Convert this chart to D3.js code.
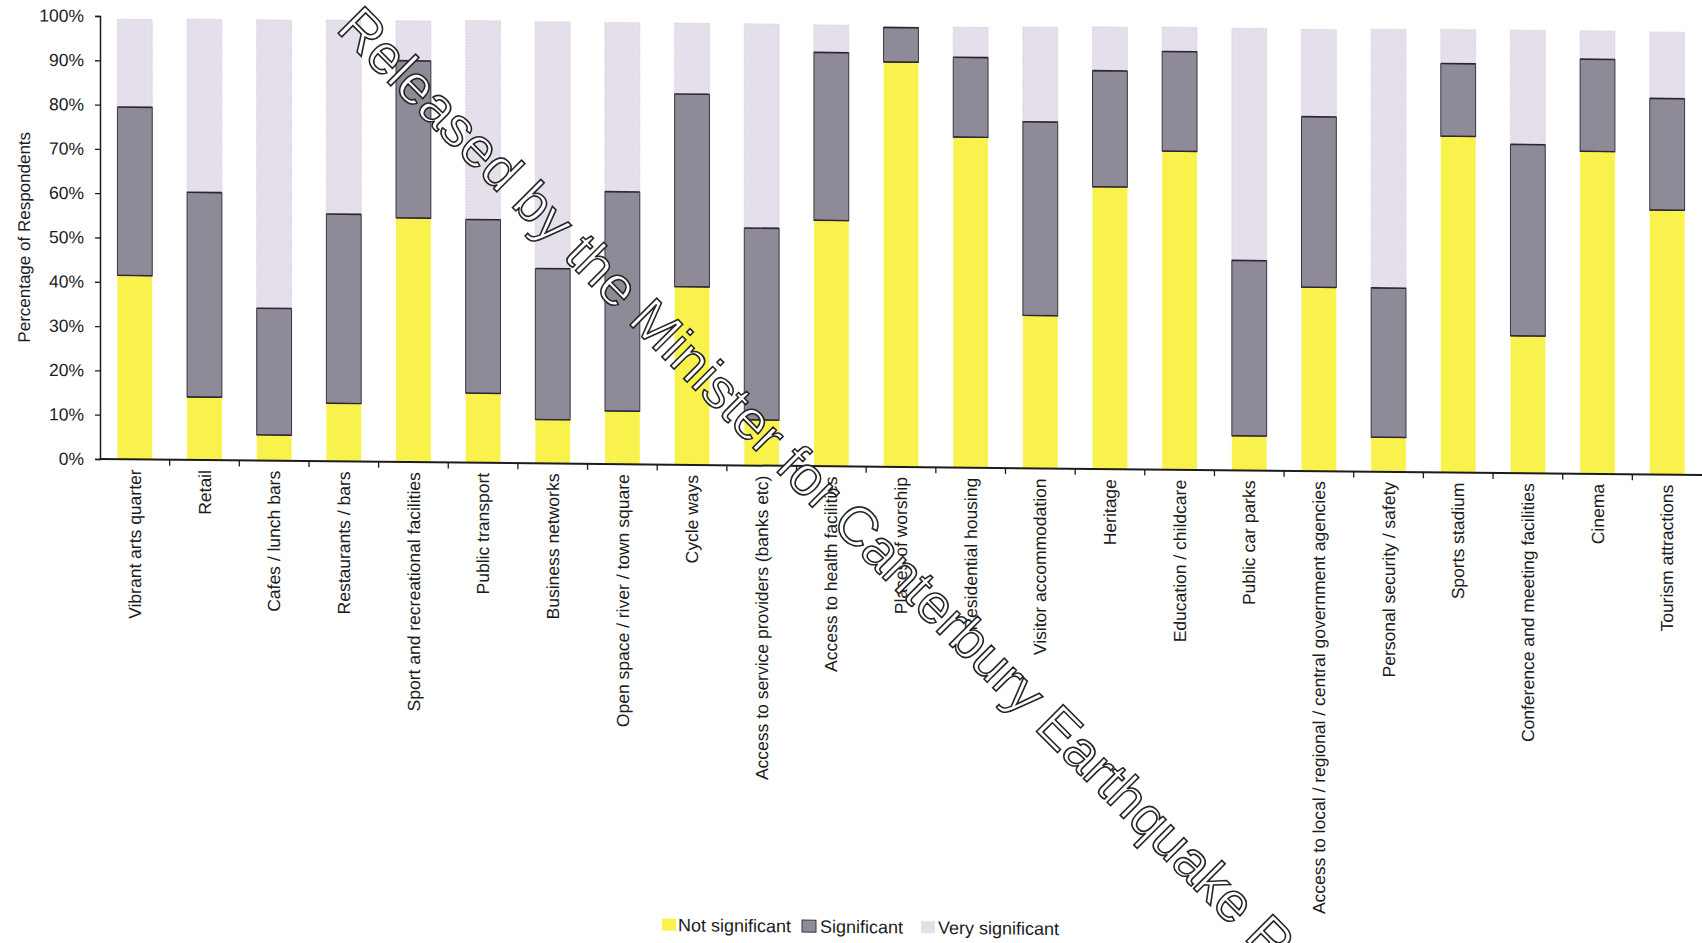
<!DOCTYPE html>
<html>
<head>
<meta charset="utf-8">
<script src="https://cdn.jsdelivr.net/npm/d3@7"></script>
<style>
  html, body { margin: 0; padding: 0; background: #ffffff; }
  svg { display: block; }
  text { font-family: "Liberation Sans", Arial, Helvetica, sans-serif; }
</style>
</head>
<body>
<svg id="chart" width="1702" height="943"></svg>
<script>
// Facilities and how significant respondents rated each one (percent of respondents)
const categories = [
  "Vibrant arts quarter",
  "Retail",
  "Cafes / lunch bars",
  "Restaurants / bars",
  "Sport and recreational facilities",
  "Public transport",
  "Business networks",
  "Open space / river / town square",
  "Cycle ways",
  "Access to service providers (banks etc)",
  "Access to health facilities",
  "Places of worship",
  "Residential housing",
  "Visitor accommodation",
  "Heritage",
  "Education / childcare",
  "Public car parks",
  "Access to local / regional / central government agencies",
  "Personal security / safety",
  "Sports stadium",
  "Conference and meeting facilities",
  "Cinema",
  "Tourism attractions"
];
const notSignificant  = [41.5, 14.2, 5.8, 13.1, 55.1, 15.7, 9.9, 12.0, 40.2, 10.3, 55.5, 91.4, 74.6, 34.5, 63.7, 71.9, 7.8, 41.5, 7.8, 75.9, 31.0, 72.8, 59.7];
const significant     = [38.0, 46.2, 28.6, 42.7, 35.5, 39.2, 34.1, 49.5, 43.5, 43.3, 37.9, 7.8, 18.0, 43.7, 26.2, 22.5, 39.6, 38.5, 33.7, 16.4, 43.2, 20.8, 25.2];
const verySignificant = [19.8, 39.1, 65.1, 43.8, 9.0, 44.9, 55.7, 38.2, 16.0, 46.1, 6.2, 0.0, 6.8, 21.4, 9.9, 5.5, 52.4, 19.7, 58.4, 7.7, 25.8, 6.4, 15.0];
const seriesNames = ["Not significant", "Significant", "Very significant"];
const yTicks = [0, 10, 20, 30, 40, 50, 60, 70, 80, 90, 100];

const colors = {
  "Not significant": "#faf24c",
  "Significant": "#8e8a97",
  "Very significant": "#e5dfeb"
};
const ink = "#1c1c1c";

const rows = categories.map((c, i) => ({
  category: c,
  "Not significant": notSignificant[i],
  "Significant": significant[i],
  "Very significant": verySignificant[i]
}));

const svg = d3.select("#chart");

// The whole chart sits on a very slight slope, as on the printed page
const g = svg.append("g").attr("transform", "skewY(0.573)");

const plot = { left: 100, right: 1702, top: 15, bottom: 458 };

const x = d3.scaleBand()
  .domain(categories)
  .range([plot.left, plot.right])
  .paddingInner(0.5)
  .paddingOuter(0.25);

const y = d3.scaleLinear()
  .domain([0, 100])
  .range([plot.bottom, plot.top]);

const stacked = d3.stack().keys(seriesNames)(rows);

// Stacked bars
const layers = g.append("g").selectAll("g")
  .data(stacked)
  .join("g")
  .attr("fill", d => colors[d.key]);

layers.selectAll("rect")
  .data(d => d.map(v => Object.assign({}, v, { key: d.key })))
  .join("rect")
  .attr("x", d => x(d.data.category))
  .attr("width", x.bandwidth())
  .attr("y", d => y(d[1]))
  .attr("height", d => Math.max(0, y(d[0]) - y(d[1])))
  .attr("stroke", d => d.key === "Significant" ? "#3a3540" : (d.key === "Very significant" ? "#d4cddb" : "none"))
  .attr("stroke-width", d => d.key === "Significant" ? 1 : 0.8)
  .attr("stroke-dasharray", d => d.key === "Very significant" ? "2,1" : null);

// Darker edges along the top and bottom of each "Significant" segment
const sigSegs = stacked[1].filter(d => d[1] - d[0] > 0);
g.append("g").selectAll("line")
  .data(sigSegs)
  .join("line")
  .attr("x1", d => x(d.data.category))
  .attr("x2", d => x(d.data.category) + x.bandwidth())
  .attr("y1", d => y(d[1]))
  .attr("y2", d => y(d[1]))
  .attr("stroke", "#2b2630")
  .attr("stroke-width", 1.6);
g.append("g").selectAll("line")
  .data(sigSegs)
  .join("line")
  .attr("x1", d => x(d.data.category))
  .attr("x2", d => x(d.data.category) + x.bandwidth())
  .attr("y1", d => y(d[0]))
  .attr("y2", d => y(d[0]))
  .attr("stroke", "#2b2630")
  .attr("stroke-width", 1.4);

// Value axis
const yAxis = d3.axisLeft(y)
  .tickValues(yTicks)
  .tickFormat(d => d + "%")
  .tickSize(5)
  .tickPadding(11);

const yAxisG = g.append("g")
  .attr("transform", `translate(${plot.left},0)`)
  .call(yAxis);
yAxisG.select(".domain").attr("stroke", ink).attr("stroke-width", 1.5);
yAxisG.selectAll(".tick line").attr("stroke", ink).attr("stroke-width", 1.3);
yAxisG.selectAll(".tick text")
  .style("font-size", "17.5px")
  .style("font-family", "'Liberation Sans', Arial, sans-serif")
  .style("fill", ink);

// Category axis: baseline, separators between categories, rotated labels
const gap = x.step() - x.bandwidth();
const xAxisG = g.append("g");
xAxisG.append("line")
  .attr("x1", plot.left).attr("x2", plot.right)
  .attr("y1", y(0)).attr("y2", y(0))
  .attr("stroke", ink).attr("stroke-width", 2);
xAxisG.selectAll("line.sep")
  .data(categories.slice(1))
  .join("line")
  .attr("class", "sep")
  .attr("x1", d => x(d) - gap / 2)
  .attr("x2", d => x(d) - gap / 2)
  .attr("y1", y(0))
  .attr("y2", y(0) + 6)
  .attr("stroke", ink).attr("stroke-width", 1.3);

xAxisG.selectAll("text")
  .data(categories)
  .join("text")
  .attr("transform", d => `translate(${x(d) + x.bandwidth() / 2},${y(0) + 10}) rotate(-90)`)
  .attr("text-anchor", "end")
  .attr("dy", "0.35em")
  .style("font-size", "17.5px")
  .style("fill", ink)
  .text(d => d);

// Axis title
g.append("text")
  .attr("transform", "translate(29.5,237) rotate(-90)")
  .attr("text-anchor", "middle")
  .style("font-size", "17px")
  .style("fill", ink)
  .text("Percentage of Respondents");

// Legend
const legendItems = [
  { name: "Not significant", sx: 662, tx: 678 },
  { name: "Significant", sx: 802, tx: 820 },
  { name: "Very significant", sx: 921, tx: 938 }
];
const legend = g.append("g");
legend.selectAll("rect")
  .data(legendItems)
  .join("rect")
  .attr("x", d => d.sx)
  .attr("y", 912)
  .attr("width", 14)
  .attr("height", 12)
  .attr("fill", d => colors[d.name])
  .attr("stroke", d => d.name === "Significant" ? "#3a3540" : "none")
  .attr("stroke-width", 1);
legend.selectAll("text")
  .data(legendItems)
  .join("text")
  .attr("x", d => d.tx)
  .attr("y", 924.5)
  .style("font-size", "18px")
  .style("fill", ink)
  .text(d => d.name);

// Release stamp across the page: hollow outlined lettering
svg.append("text")
  .attr("transform", "translate(335,30) rotate(45)")
  .style("font-size", "55px")
  .style("font-family", "'Liberation Sans', Arial, sans-serif")
  .style("fill", "#ffffff")
  .style("stroke", "#262626")
  .style("stroke-width", "1.6px")
  .text("Released by the Minister for Canterbury Earthquake Recovery");
</script>
</body>
</html>
